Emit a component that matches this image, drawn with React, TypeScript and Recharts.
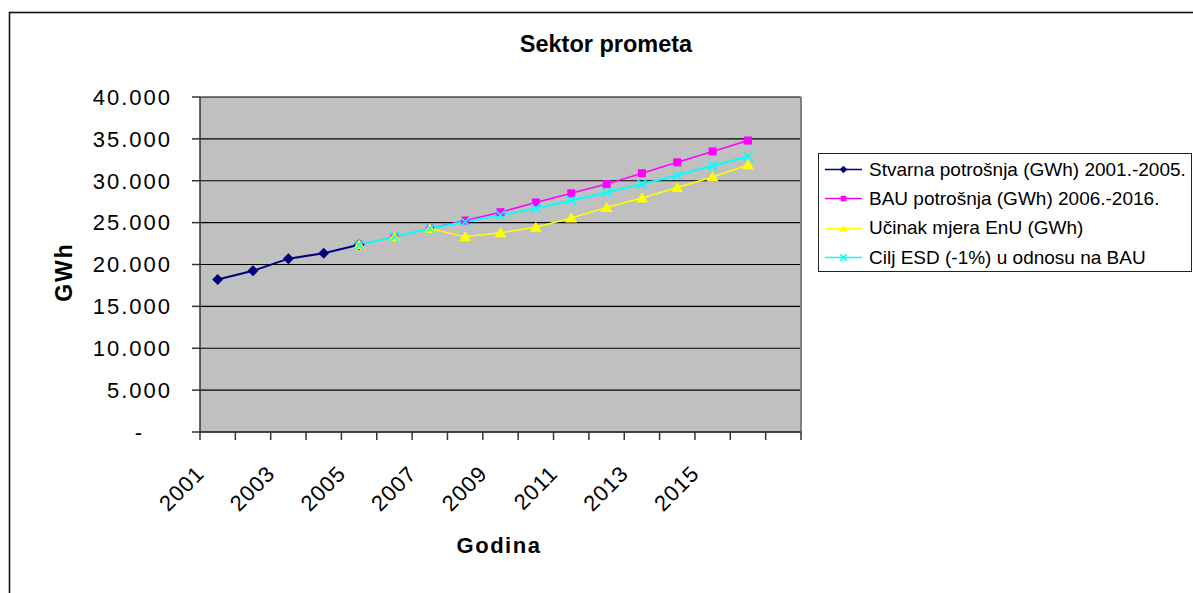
import React from "react";
import { LineChart, Line, XAxis, YAxis, CartesianGrid, Legend } from "recharts";

// godine (kategorije)
const years = ["2001", "2002", "2003", "2004", "2005", "2006", "2007", "2008", "2009", "2010", "2011", "2012", "2013", "2014", "2015", "2016"];

// GWh po godinama
const stvarna = [18200, 19250, 20700, 21350, 22350, null, null, null, null, null, null, null, null, null, null, null];
const bau = [null, null, null, null, 22350, 23300, 24300, 25250, 26250, 27400, 28500, 29600, 30900, 32200, 33500, 34800];
const ucinak = [null, null, null, null, 22350, 23300, 24300, 23300, 23800, 24450, 25550, 26800, 27950, 29200, 30450, 31900];
const cilj = [null, null, null, null, 22350, 23300, 24300, 25100, 25900, 26700, 27650, 28600, 29600, 30650, 31800, 32900];

const seriesNames = [
  "Stvarna potrošnja (GWh) 2001.-2005.",
  "BAU potrošnja (GWh) 2006.-2016.",
  "Učinak mjera EnU (GWh)",
  "Cilj ESD (-1%) u odnosu na BAU",
];

const yTicks = [0, 5000, 10000, 15000, 20000, 25000, 30000, 35000, 40000];

const data = years.map((year, i) => ({
  year,
  stvarna: stvarna[i],
  bau: bau[i],
  ucinak: ucinak[i],
  cilj: cilj[i],
}));

const W = 1193;
const H = 593;
const PLOT = { left: 200, top: 97, right: 801, bottom: 432 };
const SLOTS = years.length + 1; // excel ostavlja jedno prazno mjesto desno
const BAND = (PLOT.right - PLOT.left) / SLOTS;
const FONT = "'Liberation Sans', Arial, sans-serif";
const AXIS = "#333";

const series = [
  { key: "stvarna", color: "#000080", marker: "diamond", width: 2 },
  { key: "bau", color: "#FF00FF", marker: "square", width: 1.5 },
  { key: "ucinak", color: "#FFFF00", marker: "triangle", width: 1.5 },
  { key: "cilj", color: "#00FFFF", marker: "x", width: 2 },
];

function Marker({ kind, cx, cy, color, s = 1 }: any) {
  if (kind === "diamond")
    return <polygon points={`${cx},${cy - 5.5 * s} ${cx + 5.5 * s},${cy} ${cx},${cy + 5.5 * s} ${cx - 5.5 * s},${cy}`} fill={color} />;
  if (kind === "square")
    return <rect x={cx - 4 * s} y={cy - 4 * s} width={8 * s} height={8 * s} fill={color} />;
  if (kind === "triangle")
    return <polygon points={`${cx},${cy - 5.5 * s} ${cx + 6 * s},${cy + 4.5 * s} ${cx - 6 * s},${cy + 4.5 * s}`} fill={color} />;
  return (
    <g stroke={color} strokeWidth={1.6}>
      <line x1={cx - 4.5 * s} y1={cy - 4.5 * s} x2={cx + 4.5 * s} y2={cy + 4.5 * s} />
      <line x1={cx - 4.5 * s} y1={cy + 4.5 * s} x2={cx + 4.5 * s} y2={cy - 4.5 * s} />
    </g>
  );
}

const dotFor = (kind: string, color: string) => (p: any) => {
  const k = `${kind}-${p.index}`;
  if (p.cx == null || p.cy == null || p.value == null) return <g key={k} />;
  return (
    <g key={k}>
      <Marker kind={kind} cx={p.cx} cy={p.cy} color={color} />
    </g>
  );
};

function XTick({ x, y, payload }: any) {
  const i = payload.index;
  const marks = [x - BAND / 2];
  if (i === years.length - 1) marks.push(x + BAND / 2, x + 1.5 * BAND);
  const tx = x - 12;
  const ty = y + 43;
  return (
    <g>
      {marks.map((mx) => (
        <line key={mx} x1={mx} x2={mx} y1={y} y2={y + 8} stroke={AXIS} strokeWidth={1.5} />
      ))}
      {i % 2 === 0 && (
        <text x={tx} y={ty} transform={`rotate(-45 ${tx} ${ty})`} textAnchor="end" fontSize={22} fontFamily={FONT} fill="#000" style={{ letterSpacing: "1px" }}>
          {payload.value}
        </text>
      )}
    </g>
  );
}

function YTick({ x, y, payload }: any) {
  const v = payload.value;
  const label = v === 0 ? "-" : `${v / 1000}.000`;
  return (
    <text x={v === 0 ? x - 28 : x} y={y} dy="0.355em" textAnchor="end" fontSize={22} fontFamily={FONT} fill="#000" style={{ letterSpacing: "2px" }}>
      {label}
    </text>
  );
}

function LegendBox() {
  return (
    <div style={{ boxSizing: "border-box", width: 374, height: 119, border: "1.5px solid #222", background: "#fff", paddingTop: 1, fontFamily: FONT, fontSize: 19, color: "#000" }}>
      {series.map((s, i) => (
        <div key={s.key} style={{ display: "flex", alignItems: "center", height: 29.3, whiteSpace: "nowrap" }}>
          <svg width={50} height={29} style={{ flex: "none" }}>
            <line x1={6} x2={43} y1={14.5} y2={14.5} stroke={s.color} strokeWidth={1.5} />
            <Marker kind={s.marker} cx={24.5} cy={14.5} color={s.color} s={0.7} />
          </svg>
          <span>{seriesNames[i]}</span>
        </div>
      ))}
    </div>
  );
}

export default function App() {
  return (
    <div style={{ position: "fixed", left: 0, top: 0, width: W, height: H, overflow: "hidden", background: "#fff" }}>
      <svg width={W} height={H} style={{ position: "absolute", left: 0, top: 0 }}>
        <rect x={9.5} y={12.5} width={1400} height={800} fill="none" stroke="#111" strokeWidth={1.6} />
        <text x={606} y={52} textAnchor="middle" fontSize={23.5} fontWeight="bold" fontFamily={FONT}>
          Sektor prometa
        </text>
        <text transform="translate(71.5 272) rotate(-90)" textAnchor="middle" fontSize={23} fontWeight="bold" fontFamily={FONT} style={{ letterSpacing: "2px" }}>
          GWh
        </text>
        <text x={499} y={553} textAnchor="middle" fontSize={22} fontWeight="bold" fontFamily={FONT} style={{ letterSpacing: "1.5px" }}>
          Godina
        </text>
      </svg>
      <div style={{ position: "absolute", left: 0, top: 0 }}>
        <LineChart
          width={W}
          height={H}
          data={data}
          margin={{ top: PLOT.top, right: W - PLOT.right, bottom: H - PLOT.bottom - 60, left: PLOT.left - 120 }}
        >
          <CartesianGrid horizontal vertical={false} fill="#C0C0C0" stroke="#000" strokeWidth={1.2} />
          <CartesianGrid
            horizontal={false}
            vertical
            stroke="#808080"
            strokeWidth={2}
            verticalCoordinatesGenerator={({ offset }: any) => [offset.left + offset.width]}
          />
          <XAxis
            dataKey="year"
            scale="band"
            padding={{ left: 0, right: BAND }}
            interval={0}
            height={60}
            tickLine={false}
            tickSize={0}
            tickMargin={0}
            axisLine={{ stroke: AXIS, strokeWidth: 1.5 }}
            tick={<XTick />}
          />
          <YAxis
            width={120}
            domain={[0, 40000]}
            ticks={yTicks}
            interval={0}
            tickSize={8}
            tickMargin={20}
            tickLine={{ stroke: AXIS, strokeWidth: 1.5 }}
            axisLine={{ stroke: AXIS, strokeWidth: 1.5 }}
            tick={<YTick />}
          />
          <Legend
            layout="vertical"
            align="center"
            verticalAlign="middle"
            content={() => <LegendBox />}
            wrapperStyle={{ left: 818, top: 153, width: 374, height: 119, margin: 0 }}
          />
          {series.map((s, i) => (
            <Line
              key={s.key}
              type="linear"
              dataKey={s.key}
              name={seriesNames[i]}
              stroke={s.color}
              strokeWidth={s.width}
              dot={dotFor(s.marker, s.color)}
              activeDot={false}
              connectNulls={false}
              isAnimationActive={false}
            />
          ))}
        </LineChart>
      </div>
    </div>
  );
}
